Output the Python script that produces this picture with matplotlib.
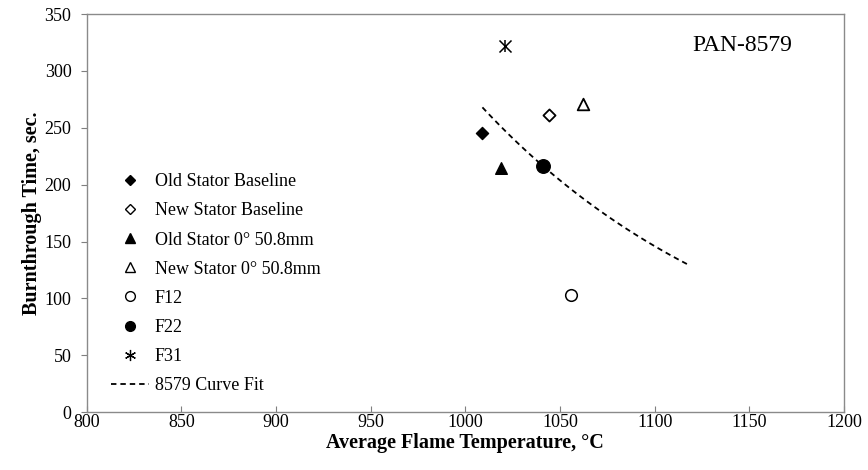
import numpy as np
import matplotlib
matplotlib.use("Agg")
import matplotlib.pyplot as plt
from matplotlib.lines import Line2D

plt.rcParams['font.family'] = ['Liberation Serif', 'DejaVu Serif']

# Measured burnthrough results (average flame temperature in °C, time in s)
series_names = ["Old Stator Baseline", "New Stator Baseline",
                "Old Stator 0° 50.8mm", "New Stator 0° 50.8mm",
                "F12", "F22", "F31"]
temps = [1009, 1044, 1018.7, 1062, 1056, 1041, 1021]
times = [245, 261, 214.5, 271, 103, 216, 321.5]

# Exponential curve fit for PAN-8579: t = a * exp(b * T)
fit_a = 2.257e5
fit_b = -0.006676
fit_T_range = (1009, 1117)

xticks = [800, 850, 900, 950, 1000, 1050, 1100, 1150, 1200]
yticks = [0, 50, 100, 150, 200, 250, 300, 350]

marker_styles = [
    dict(marker='D', s=38, facecolors='black', edgecolors='black'),
    dict(marker='D', s=38, facecolors='white', edgecolors='black', linewidths=1.3),
    dict(marker='^', s=70, facecolors='black', edgecolors='black'),
    dict(marker='^', s=70, facecolors='white', edgecolors='black', linewidths=1.3),
    dict(marker='o', s=70, facecolors='white', edgecolors='black', linewidths=1.1),
    dict(marker='o', s=95, facecolors='black', edgecolors='black'),
    dict(marker='x', s=75, c='black', linewidths=1.1),
]

fig = plt.figure(figsize=(8.68, 4.70), dpi=100)
ax = fig.add_axes([0.0999, 0.1228, 0.8725, 0.8474])

for name, T, t, st in zip(series_names, temps, times, marker_styles):
    ax.scatter([T], [t], label=name, zorder=3, **st)
    if st['marker'] == 'x':
        ax.scatter([T], [t], marker='|', s=75, c='black', linewidths=1.1, zorder=3)

Tfit = np.linspace(fit_T_range[0], fit_T_range[1], 100)
ax.plot(Tfit, fit_a * np.exp(fit_b * Tfit), linestyle=(0, (3, 2.2)), color='black',
        linewidth=1.3, label="8579 Curve Fit", zorder=2)

ax.set_xlim(800, 1200)
ax.set_ylim(0, 350)
ax.set_xticks(xticks)
ax.set_yticks(yticks)
ax.tick_params(axis='x', direction='in', length=4, labelsize=13, color='#7f7f7f', pad=1.5)
ax.tick_params(axis='y', direction='out', length=4, labelsize=13, color='#7f7f7f', pad=7)
for sp in ax.spines.values():
    sp.set_color('#8a8a8a')
    sp.set_linewidth(1.0)

ax.set_xlabel("Average Flame Temperature, °C", fontsize=14.5, fontweight='bold', labelpad=1)
ax.set_ylabel("Burnthrough Time, sec.", fontsize=14.5, fontweight='bold', labelpad=2)

ax.text(0.866, 0.922, "PAN-8579", transform=ax.transAxes, fontsize=17,
        ha='center', va='center')

# Legend with the asterisk built as a six-spoke marker
handles = [
    Line2D([], [], marker='D', markersize=5, color='black', linestyle='none'),
    Line2D([], [], marker='D', markersize=5, markerfacecolor='white', markeredgecolor='black', linestyle='none'),
    Line2D([], [], marker='^', markersize=7, color='black', linestyle='none'),
    Line2D([], [], marker='^', markersize=7, markerfacecolor='white', markeredgecolor='black', linestyle='none'),
    Line2D([], [], marker='o', markersize=7, markerfacecolor='white', markeredgecolor='black', linestyle='none'),
    Line2D([], [], marker='o', markersize=7, color='black', linestyle='none'),
    Line2D([], [], marker=(6, 2, 0), markersize=8, color='black', markeredgewidth=0.9, linestyle='none'),
    Line2D([], [], linestyle=(0, (3, 2.2)), color='black', linewidth=1.3),
]
ax.legend(handles, series_names + ["8579 Curve Fit"], loc='upper left',
          bbox_to_anchor=(0.018, 0.627), frameon=False, fontsize=13,
          handlelength=2.1, handletextpad=0.3, labelspacing=0.67,
          borderaxespad=0.2)

fig.savefig("out.png", dpi=100)
